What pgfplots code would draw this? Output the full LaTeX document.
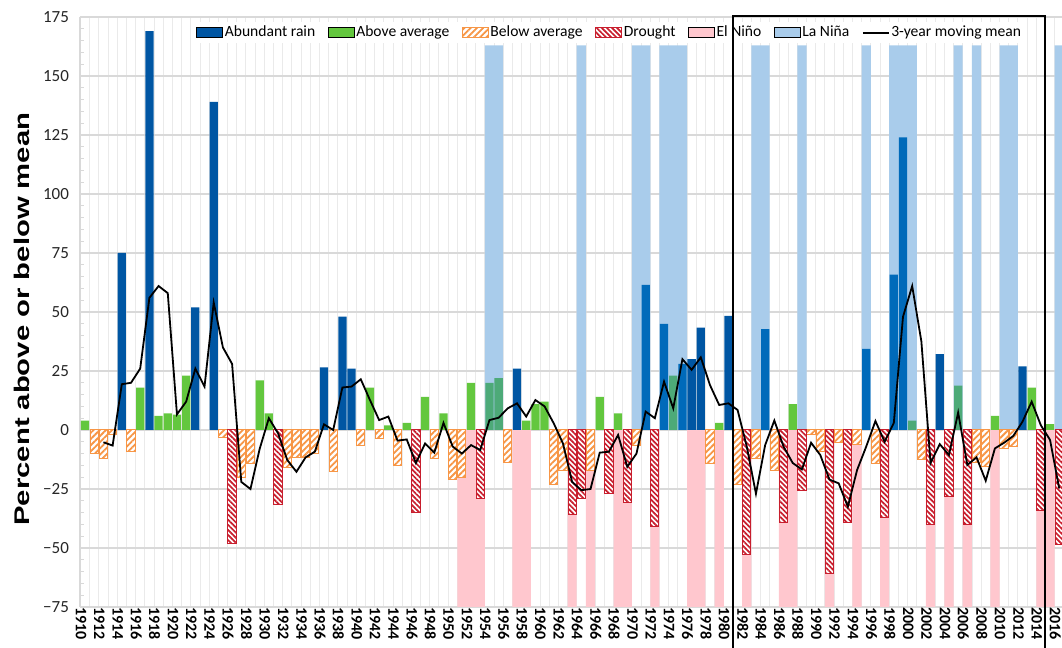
\documentclass[border=0pt]{standalone}
\usepackage{graphicx}
\usepackage{fontspec}
\setmainfont{Carlito}
\newfontfamily\arialb{Liberation Sans}
\usepackage{pgfplots}
\pgfplotsset{compat=1.18}
\usetikzlibrary{patterns.meta}
\definecolor{cAbund}{RGB}{0,86,163}
\definecolor{cAbundL}{RGB}{0,106,186}
\definecolor{cAbove}{RGB}{99,199,62}
\definecolor{cAboveL}{RGB}{77,170,120}
\definecolor{cBelow}{RGB}{247,150,70}
\definecolor{cDrought}{RGB}{200,30,45}
\definecolor{cNino}{RGB}{255,199,206}
\definecolor{cNina}{RGB}{169,204,235}
\definecolor{cGrid}{RGB}{217,217,217}
\begin{document}
\begin{tikzpicture}
\begin{axis}[
  scale only axis, width=491pt, height=295pt,
  at={(0,0)}, anchor=south west,
  xmin=1909.45, xmax=2016.3, ymin=-75, ymax=175,
  axis x line*=bottom, axis y line*=left,
  axis line style={draw=cGrid, line width=0.6pt},
  ytick={-75,-50,...,175},
  yticklabels={−75,−50,−25,0,25,50,75,100,125,150,175},
  minor y tick num=4,
  xtick={1910,1912,...,2016},
  minor xtick={1909.5,1910.5,...,2016.5},
  xtick style={draw=none},
  ytick style={draw=cGrid, line width=0.5pt},
  major tick length=0pt, minor tick length=2pt,
  ymajorgrids, xminorgrids,
  major grid style={draw=cGrid, line width=0.6pt},
  minor grid style={draw=cGrid!55, line width=0.4pt},
  /pgf/number format/1000 sep={},
  /pgf/number format/assume math mode=true,
  xticklabel style={rotate=-90, anchor=west, inner sep=0pt, yshift=-2pt, font=\bfseries\fontsize{8}{8}\selectfont, text=black},
  yticklabel style={font=\fontsize{8.5}{9}\selectfont, text=black!85, xshift=-2pt},
  ylabel={\scalebox{1.38}[1]{\arialb\bfseries\fontsize{10.6}{12}\selectfont Percent above or below mean}},
  ylabel style={at={(rel axis cs:-0.059,0.488)}, anchor=center},
  legend columns=-1,
  legend style={at={(rel axis cs:0.1161,0.992)}, anchor=north west, draw=none, fill=white,
    font=\fontsize{7.8}{9}\selectfont, inner sep=1pt,
    nodes={inner sep=0.8pt},
    /tikz/every even column/.append style={column sep=5.5pt}},
]
% La Nina bands
\addplot[ybar, bar width=1, bar shift=0, fill=cNina, draw=none, forget plot] coordinates {
(1954,163)(1955,163)(1964,163)(1970,163)(1971,163)(1973,163)(1974,163)(1975,163)
(1983,163)(1984,163)(1988,163)(1995,163)(1998,163)(1999,163)(2000,163)(2005,163)
(2007,163)(2010,163)(2011,163)(2016,163)};
% El Nino bands
\addplot[ybar, bar width=1, bar shift=0, fill=cNino, draw=none, forget plot] coordinates {
(1951,-75)(1952,-75)(1953,-75)(1957,-75)(1958,-75)(1963,-75)(1965,-75)(1968,-75)
(1969,-75)(1972,-75)(1976,-75)(1977,-75)(1979,-75)(1982,-75)(1986,-75)(1987,-75)
(1991,-75)(1994,-75)(1997,-75)(2002,-75)(2004,-75)(2006,-75)(2009,-75)(2014,-75)(2015,-75)};
% Abundant rain
\addplot[ybar, bar width=0.9, bar shift=0, fill=cAbund, draw=none, forget plot] coordinates {
(1914,75)(1917,169)(1922,52)(1924,139)(1936,26.5)(1938,48)(1939,26)(1957,26)
(1976,30)(1977,43.4)(1980,48.4)(2003,32.2)(2012,27)};
\addplot[ybar, bar width=0.9, bar shift=0, fill=cAbundL, draw=none, forget plot] coordinates {
(1971,61.5)(1973,45)(1975,28)(1984,42.7)(1995,34.4)(1998,65.8)(1999,124)};
% Above average
\addplot[ybar, bar width=0.9, bar shift=0, fill=cAbove, draw=none, forget plot] coordinates {
(1910,4)(1916,18)(1918,6)(1919,7)(1920,6.5)(1921,23)(1929,21)(1930,7)(1941,18)
(1943,2)(1945,3)(1947,14)(1949,7)(1952,20)(1958,4)(1959,11)(1960,12)(1966,14)
(1968,7)(1979,3)(1987,11)(2009,6)(2013,18)(2015,2.5)};
\addplot[ybar, bar width=0.9, bar shift=0, fill=cAboveL, draw=none, forget plot] coordinates {
(1954,20)(1955,22)(1974,23)(2000,4)(2005,18.8)};
% Below average
\addplot[ybar, bar width=0.9, bar shift=0, draw=cBelow, line width=0.5pt,
  preaction={fill=white}, pattern={Lines[angle=45,distance=2.2pt,line width=0.9pt]},
  pattern color=cBelow, forget plot] coordinates {
(1911,-10)(1912,-12)(1913,-2)(1915,-9)(1925,-3)(1927,-20)(1928,-14)(1932,-16)
(1933,-11.5)(1934,-11.5)(1935,-10)(1937,-17.5)(1940,-6.6)(1942,-3.5)(1944,-15)
(1948,-12)(1950,-21)(1951,-20)(1956,-13.7)(1961,-23)(1962,-17)(1965,-17)(1970,-6.6)
(1978,-14.4)(1981,-23)(1983,-12)(1985,-17)(1989,-2)(1990,-9)(1992,-5.5)(1994,-6)
(1996,-14.4)(2001,-12.7)(2007,-13.7)(2008,-15.6)(2010,-7.8)(2011,-7)};
% Drought
\addplot[ybar, bar width=0.9, bar shift=0, draw=cDrought, line width=0.5pt,
  preaction={fill=white}, pattern={Lines[angle=-45,distance=1.8pt,line width=0.85pt]},
  pattern color=cDrought, forget plot] coordinates {
(1926,-48)(1931,-31.5)(1946,-35)(1953,-29)(1963,-36)(1964,-29)(1967,-27)(1969,-30.7)
(1972,-41)(1982,-52.8)(1986,-39)(1988,-25.5)(1991,-61)(1993,-39)(1997,-37)(2002,-40)
(2004,-28.3)(2006,-40)(2014,-34)(2016,-48.5)};
% 3-year moving mean
\addplot[black, line width=0.9pt, forget plot] coordinates {
(1912,-5.2)(1913,-6.6)(1914,19.4)(1915,20)(1916,26)(1917,56)(1918,61)(1919,58)
(1920,6.6)(1921,12)(1922,26)(1923,18.4)(1924,54)(1925,35)(1926,28)(1927,-22)
(1928,-25)(1929,-8)(1930,5)(1931,-1.4)(1932,-12.7)(1933,-17.7)(1934,-11.6)(1935,-9.2)
(1936,2.4)(1937,0)(1938,18)(1939,18.4)(1940,21.5)(1941,12.7)(1942,4.2)(1943,5.7)
(1944,-4.5)(1945,-4)(1946,-14)(1947,-5.7)(1948,-9.6)(1949,3)(1950,-7)(1951,-10)
(1952,-6.4)(1953,-8.5)(1954,4.2)(1955,5.2)(1956,9.2)(1957,11.3)(1958,5.7)(1959,12.7)
(1960,10)(1961,2.8)(1962,-5.7)(1963,-22)(1964,-25.5)(1965,-25)(1966,-9.6)(1967,-9.2)
(1968,-2.1)(1969,-15.6)(1970,-10)(1971,7.8)(1972,5)(1973,20.5)(1974,9.2)(1975,30)
(1976,25.5)(1977,30.8)(1978,19)(1979,10.6)(1980,11.3)(1981,8.5)(1982,-7)(1983,-27)
(1984,-6.4)(1985,4)(1986,-7)(1987,-14)(1988,-16.7)(1989,-5.4)(1990,-10.6)(1991,-21)
(1992,-22.6)(1993,-32.5)(1994,-17)(1995,-7)(1996,3.8)(1997,-5)(1998,3)(1999,48)
(2000,61)(2001,37.5)(2002,-14)(2003,-6)(2004,-10.6)(2005,7.4)(2006,-14.8)(2007,-11.6)
(2008,-21.5)(2009,-7.8)(2010,-5.4)(2011,-2.5)(2012,3.5)(2013,12)(2014,2)(2015,-4.2)
(2016,-24.8)};
% legend
\addlegendimage{legend image code/.code={\fill[fill=cAbund] (0pt,-2.6pt) rectangle (13pt,2.6pt);}}
\addlegendentry{Abundant rain}
\addlegendimage{legend image code/.code={\fill[fill=cAbove] (0pt,-2.6pt) rectangle (13pt,2.6pt);}}
\addlegendentry{Above average}
\addlegendimage{legend image code/.code={\draw[draw=cBelow, line width=0.5pt, pattern={Lines[angle=45,distance=2.2pt,line width=0.9pt]}, pattern color=cBelow] (0pt,-2.6pt) rectangle (13pt,2.6pt);}}
\addlegendentry{Below average}
\addlegendimage{legend image code/.code={\draw[draw=cDrought, line width=0.5pt, pattern={Lines[angle=-45,distance=1.8pt,line width=0.85pt]}, pattern color=cDrought] (0pt,-2.6pt) rectangle (13pt,2.6pt);}}
\addlegendentry{Drought}
\addlegendimage{legend image code/.code={\fill[fill=cNino] (0pt,-2.6pt) rectangle (13pt,2.6pt);}}
\addlegendentry{El Niño}
\addlegendimage{legend image code/.code={\fill[fill=cNina] (0pt,-2.6pt) rectangle (13pt,2.6pt);}}
\addlegendentry{La Niña}
\addlegendimage{legend image code/.code={\draw[black, line width=0.9pt] (0pt,0pt) -- (13pt,0pt);}}
\addlegendentry{3-year moving mean}
\coordinate (r1) at (axis cs:1980.5,175.4);
\coordinate (r2) at (axis cs:2014.5,175.4);
\end{axis}
\draw[black, line width=1pt] (r1 |- 0,-40pt) -- (r1) -- (r2) -- (r2 |- 0,-40pt);
\pgfresetboundingbox
\useasboundingbox (-40pt,-20.5pt) rectangle (491pt,303.5pt);
\end{tikzpicture}
\end{document}
